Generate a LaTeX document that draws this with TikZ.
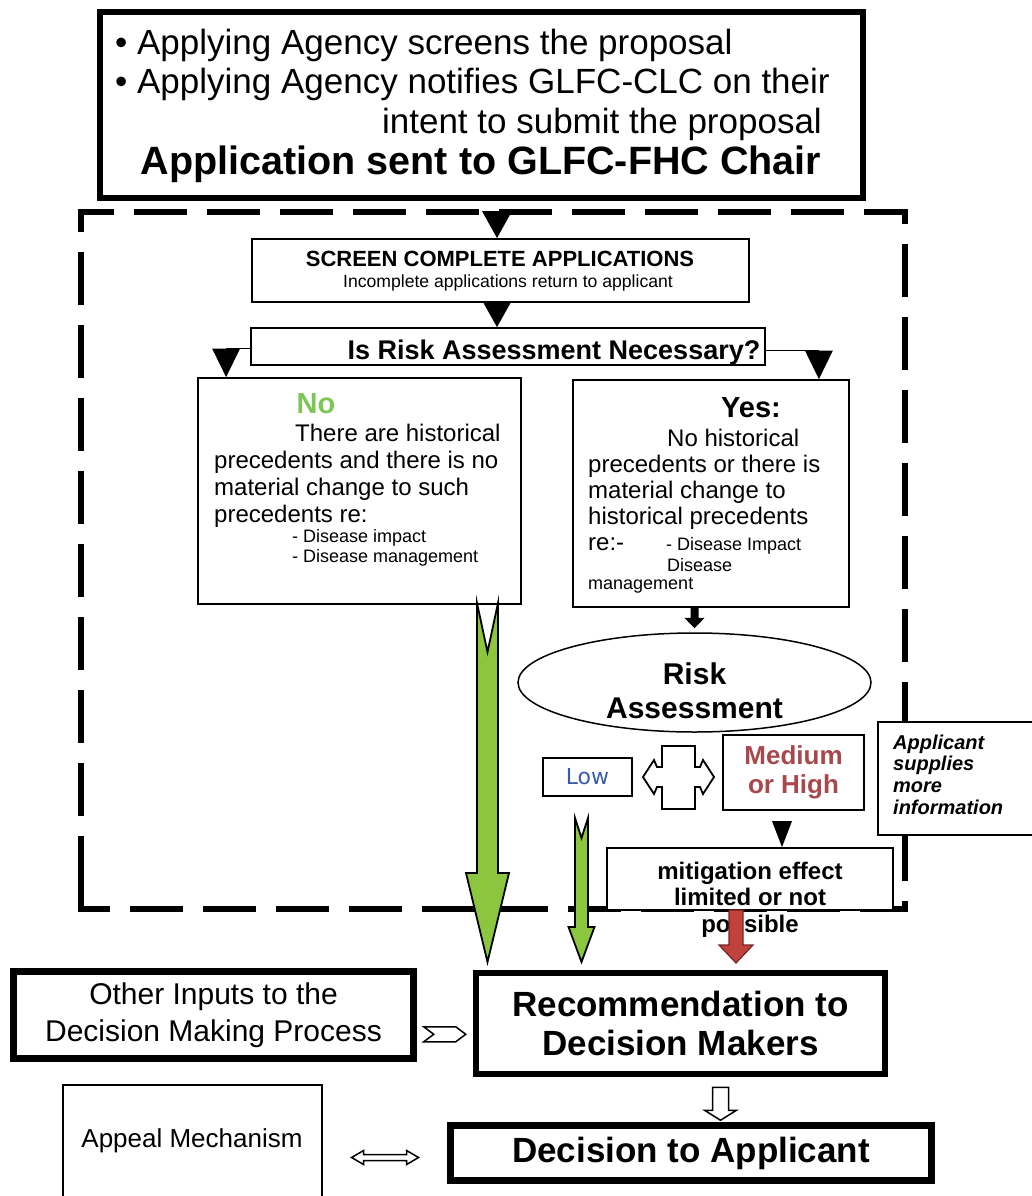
\documentclass[tikz,border=0pt]{standalone}
\usepackage{fontspec}
\setmainfont{Liberation Sans}
\newfontfamily\lowfont{DejaVu Sans}
\usepackage{tikz}
\usetikzlibrary{shapes}
\usetikzlibrary{arrows}
\usetikzlibrary{calc}
\newcommand{\fsz}[2]{\fontsize{#1}{#2}\selectfont}
\definecolor{arrowgreen}{RGB}{140,198,63}
\definecolor{nogreen}{RGB}{125,198,85}
\definecolor{lowblue}{RGB}{58,92,168}
\definecolor{medred}{RGB}{168,72,76}
\definecolor{riskred}{RGB}{192,66,60}
\definecolor{riskdark}{RGB}{120,35,35}
\tikzset{
  heavybox/.style={draw=black, line width=6.5pt, fill=white, inner sep=0pt},
  lightbox/.style={draw=black, line width=1.8pt, fill=white, inner sep=0pt},
  txt/.style={inner sep=0pt, anchor=base},
  blockarrow/.style={draw=black, line width=1.5pt, fill=white}
}

\begin{document}
\begin{tikzpicture}[x=1pt,y=-1pt]
\useasboundingbox (0,0) rectangle (1031,1196);
\fill[white] (0,0) rectangle (1031,1196);

% dashed screening frame
\draw[line width=6.5pt, dash pattern=on 53pt off 20pt] (81,885) -- (81,909) -- (905,909) -- (905,212) -- (81,212) -- cycle;

% applying agency
\node[heavybox, line width=5.5pt, minimum width=763pt, minimum height=186pt] (apply) at (481.5,105) {};
\node[txt, anchor=base west] (applyone) at (115,55) {\fsz{35}{39}• Applying Agency screens the proposal};
\node[txt, anchor=base west] (applytwo) at (115,94) {\fsz{35}{39}• Applying Agency notifies GLFC-CLC on their};
\node[txt, anchor=base east] (applythree) at (822,133) {\fsz{35}{39}intent to submit the proposal};
\node[txt] (applyfour) at (481,174) {\fsz{39.5}{40}\bfseries Application sent to GLFC-FHC Chair};

% screening
\node[lightbox, minimum width=497pt, minimum height=63pt] (screen) at (500.5,270.5) {};
\node[txt] (screenhead) at (500,266) {\fsz{22}{24}\bfseries SCREEN COMPLETE APPLICATIONS};
\node[txt] (screensub) at (508,287) {\fsz{17.6}{20}Incomplete applications return to applicant};
\node[lightbox, minimum width=514pt, minimum height=37pt] (risknec) at (508,346.5) {};
\node[txt] (risknect) at (554,359) {\fsz{27}{28}\bfseries Is Risk Assessment Necessary?};

\fill ($(screen.north)+(-3.5,0)$) -- ++(-15,-27) -- ++(30,0) -- cycle;
\fill ($(risknec.north)+(-11,0)$) -- ++(-14,-25) -- ++(28,0) -- cycle;

% no / yes
\node[lightbox, minimum width=323pt, minimum height=226pt] (nobox) at (359.5,491) {};
\node[lightbox, minimum width=276pt, minimum height=227pt] (yesbox) at (711,493.5) {};

\coordinate (lturn) at ($(risknec.west)+(-24,2)$);
\coordinate (rturn) at ($(risknec.east)+(53,4)$);
\draw[line width=1.8pt] (risknec.west |- lturn) -- (lturn);
\draw[line width=1.8pt] (risknec.east |- rturn) -- (rturn);
\fill ($(lturn)+(-14,0)$) -- ($(lturn)+(14,0)$) -- (lturn |- nobox.north) -- cycle;
\fill ($(rturn)+(-14,0)$) -- ($(rturn)+(14,0)$) -- (rturn |- yesbox.north) -- cycle;

\node[txt, text=nogreen] (nohead) at (316,413) {\fsz{29}{30}\bfseries No};
\node[txt, anchor=base west, align=left, font=\fsz{24}{26.7}] (notext) at (214,522) {\hspace*{81pt}There are historical\\precedents and there is no\\material change to such\\precedents re:};
\node[txt, anchor=base west, align=left, font=\fsz{18}{20}] (nolist) at (292,562) {- Disease impact\\- Disease management};

\node[txt] (yeshead) at (751,417) {\fsz{29}{30}\bfseries Yes:};
\node[txt, anchor=base west, align=left, font=\fsz{24}{26}] (yestext) at (588,524) {\hspace*{79pt}No historical\\precedents or there is\\material change to\\historical precedents};
\node[txt, anchor=base west] (yesre) at (588,550) {\fsz{24}{26}re:-};
\node[txt, anchor=base west] (yesimp) at (666,550) {\fsz{18}{20}- Disease Impact};
\node[txt, anchor=base west] (yesdis) at (667,571) {\fsz{18}{20}Disease};
\node[txt, anchor=base west] (yesman) at (588,589) {\fsz{18}{20}management};

% risk assessment
\node[draw, ellipse, line width=1.5pt, fill=white, inner sep=0pt, minimum width=353pt, minimum height=99pt] (riskass) at (694.5,682.5) {};
\node[txt, align=center, font=\fsz{30}{34}\bfseries] (riskasst) at (694.5,718) {Risk\\Assessment};
\coordinate (ya) at (riskass.north |- yesbox.south);
\fill ($(ya)+(-4,0)$) -- ++(8,0) -- ++(0,10) -- ++(6,0) -- ($(riskass.north)+(0,-4)$) -- ($(ya)+(-10,10)$) -- ++(6,0) -- cycle;

\node[lightbox, minimum width=89pt, minimum height=38pt, text=lowblue, font=\lowfont\fsz{22}{24}] (low) at (587.5,777) {Low};
\node[lightbox, minimum width=141pt, minimum height=75pt, text=medred, align=center, font=\fsz{26}{29}\bfseries] (medium) at (793.5,772.5) {Medium\\or High};
\node[lightbox, minimum width=162pt, minimum height=113pt] (applicant) at (959,778.5) {};
\node[txt, anchor=base west, align=left, font=\fsz{20}{21.6}\bfseries\itshape] (applicantt) at (893,814) {Applicant\\supplies\\more\\information};

\draw[line width=1.8pt, fill=white] (662,746) -- (695,746) -- (695,767) -- (700,767) -- (703,760) -- (714,777) -- (703,794) -- (700,787) -- (695,787) -- (695,809) -- (662,809) -- (662,787) -- (657,787) -- (654,794) -- (643,777) -- (654,760) -- (657,767) -- (662,767) -- cycle;

% mitigation
\node[lightbox, minimum width=286pt, minimum height=62pt] (mitig) at (750,879) {};
\fill ($(mitig.north)+(22,-26)$) -- ++(20,0) -- ($(mitig.north)+(32,0)$) -- cycle;
\node[txt, align=center, font=\fsz{24}{26.5}\bfseries] (mitigt) at (750,932) {mitigation effect\\limited or not\\possible};

% arrows to recommendation
\draw[line width=1.8pt, fill=arrowgreen] (477,603) -- (487.5,652) -- (498,603) -- (498,873) -- (509,873) -- (487.5,962) -- (466,873) -- (477,873) -- cycle;
\draw[line width=1.8pt, fill=arrowgreen] (575,818) -- (581.5,838) -- (588,818) -- (588,927) -- (594.5,927) -- (581.5,962) -- (568.5,927) -- (575,927) -- cycle;
\draw[line width=1.2pt, draw=riskdark, fill=riskred] (729,910) -- (743,910) -- (743,945) -- (753,945) -- (736,963) -- (719,945) -- (729,945) -- cycle;

% decision
\node[heavybox, minimum width=409pt, minimum height=101pt, align=center, font=\fsz{35}{39}\bfseries] (recom) at (680.5,1023.5) {Recommendation to\\Decision Makers};
\node[heavybox, minimum width=400pt, minimum height=87pt, align=center, font=\fsz{30}{37}] (other) at (213.5,1015) {Other Inputs to the\\Decision Making Process};
\node[heavybox, minimum width=481pt, minimum height=55pt, font=\fsz{35}{39}\bfseries] (decision) at (691,1153) {Decision to Applicant};
\node[lightbox, minimum width=259pt, minimum height=130pt] (appeal) at (192.5,1150) {};
\node[txt] (appealt) at (192,1147) {\fsz{26}{28}Appeal Mechanism};

\coordinate (chev) at ($(other.east)!0.5!(recom.west)+(0,15)$);
\draw[blockarrow] ($(chev)+(-21,-7.5)$) -- ++(32,0) -- ++(10,7.5) -- ++(-10,7.5) -- ++(-32,0) -- ++(10,-7.5) -- cycle;
\coordinate (dn) at ($(recom.south)+(40,10)$);
\draw[blockarrow] ($(dn)+(-8,0)$) -- ++(16,0) -- ++(0,23) -- ++(8,0) -- ++(-16,10) -- ++(-16,-10) -- ++(8,0) -- cycle;
\coordinate (apx) at ($(appeal.east)!0.5!(decision.west)+(0,6)$);
\draw[blockarrow] ($(apx)+(-33.5,0)$) -- ++(12,-7) -- ++(0,4) -- ++(43,0) -- ++(0,-4) -- ++(12,7) -- ++(-12,7) -- ++(0,-4) -- ++(-43,0) -- ++(0,4) -- cycle;
\end{tikzpicture}
\end{document}
